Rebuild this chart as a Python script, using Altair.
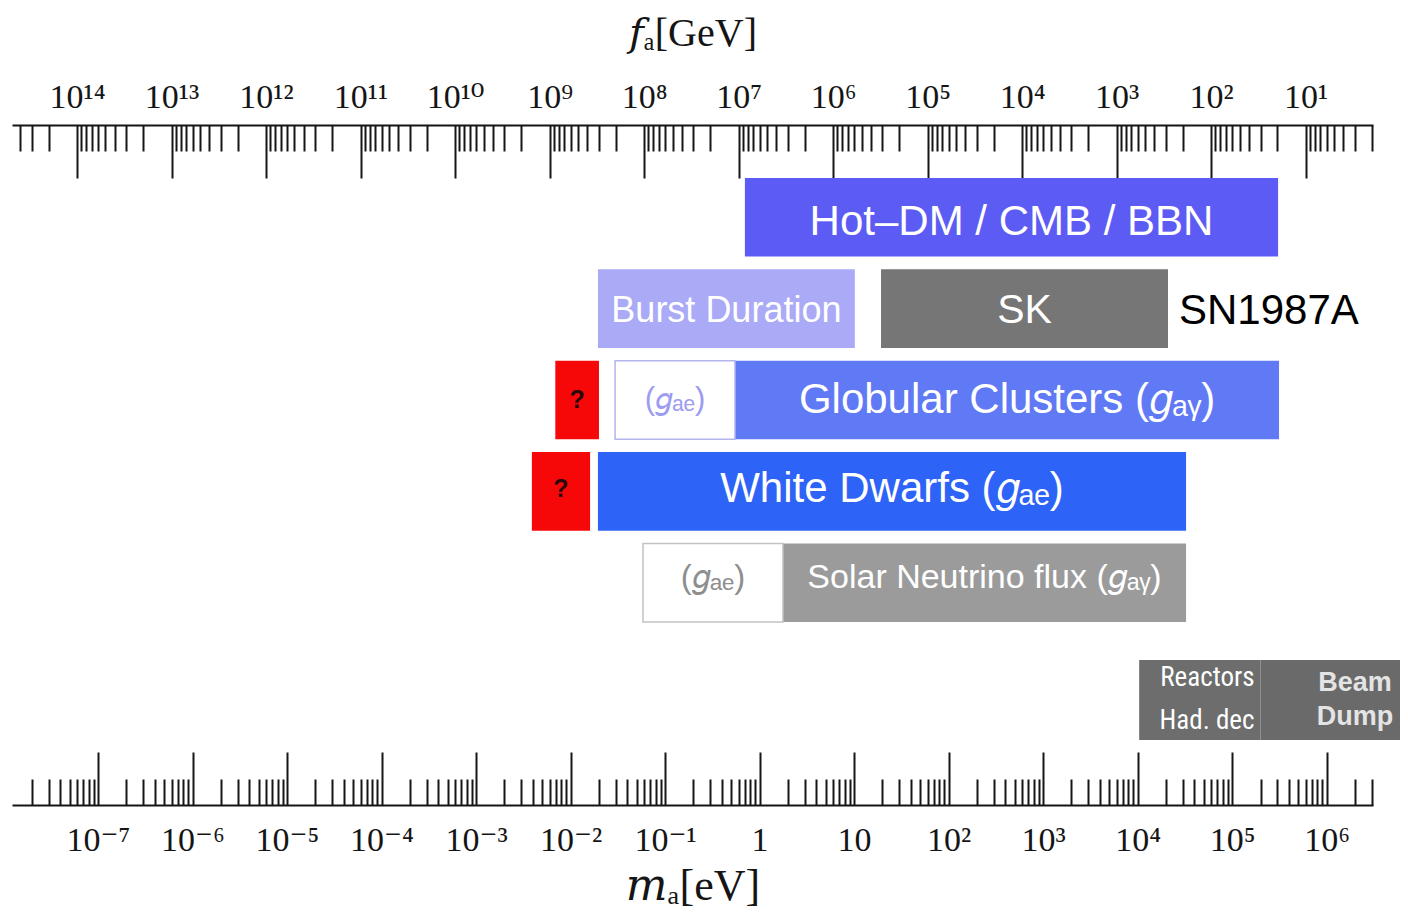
import altair as alt
import pandas as pd

# ---------------- data ----------------
FA_TIMES_MA = 6.0e6  # f_a [GeV] * m_a [eV]

m_exponents = list(range(-7, 7))
m_tick_labels = ["10⁻⁷", "10⁻⁶", "10⁻⁵", "10⁻⁴", "10⁻³", "10⁻²", "10⁻¹",
                 "1", "10", "10²", "10³", "10⁴", "10⁵", "10⁶"]
fa_exponents = list(range(14, 0, -1))
fa_tick_labels = ["10¹⁴", "10¹³", "10¹²", "10¹¹", "10¹⁰", "10⁹", "10⁸",
                  "10⁷", "10⁶", "10⁵", "10⁴", "10³", "10²", "10¹"]
minor_multipliers = [2, 3, 4, 5, 6, 7, 8, 9]
m_range = [1.23e-8, 3.1e6]

rows = ["Hot DM", "SN1987A", "Globular Clusters", "White Dwarfs", "Sun"]
lab_rows = ["Laboratory"]

bar_ids = ["hot", "burst", "sk", "gc_q", "gc_gae", "gc",
           "wd_q", "wd", "sol_gae", "sol", "reactors", "beam"]
bar_rows = ["Hot DM", "SN1987A", "SN1987A", "Globular Clusters", "Globular Clusters",
            "Globular Clusters", "White Dwarfs", "White Dwarfs", "Sun", "Sun",
            "Laboratory", "Laboratory"]
bar_lo = [0.70, 0.0195, 19.3, 6.9e-3, 0.0296, 0.55, 3.9e-3, 0.0195, 0.0585, 1.77, 1.04e4, 2.0e5]
bar_hi = [3.07e5, 10.2, 2.1e4, 0.020, 0.55, 3.14e5, 0.0161, 3.26e4, 1.77, 3.26e4, 2.0e5, 2.0e7]
bar_text = ["Hot–DM / CMB / BBN", "Burst Duration", "SK", "?", "(𝑔ₐₑ)",
            "Globular Clusters (𝑔ₐᵧ)", "?", "White Dwarfs (𝑔ₐₑ)", "(𝑔ₐₑ)",
            "Solar Neutrino flux (𝑔ₐᵧ)", "Reactors\nHad. dec", "Beam\nDump"]
side_text = ["", "", "SN1987A", "", "", "", "", "", "", "", "", ""]

# ---------------- styles ----------------
fills = {"hot": "#5c5cf5", "burst": "#aaaaf7", "sk": "#767676", "gc_q": "#f70808",
         "gc_gae": "#ffffff", "gc": "#6079f5", "wd_q": "#f70808", "wd": "#2e63f7",
         "sol_gae": "#ffffff", "sol": "#9b9b9b", "reactors": "#6d6d6d", "beam": "#6a6a6a"}
text_colors = {"hot": "#ffffff", "burst": "#ffffff", "sk": "#ffffff",
               "gc_gae": "#9c9cf0", "gc": "#ffffff", "wd": "#ffffff",
               "sol_gae": "#8e8e8e", "sol": "#ffffff"}
text_sizes = {"hot": 42, "burst": 36, "sk": 41, "gc_gae": 31, "gc": 42,
              "wd": 42, "sol_gae": 33, "sol": 34}
question_ids = ["gc_q", "wd_q"]
SANS = "Liberation Sans, Arial, Helvetica, sans-serif"
SERIF = "Liberation Serif, Times New Roman, DejaVu Serif, serif"
NARROW = "Roboto Condensed, Open Sans Condensed, Liberation Sans Narrow, DejaVu Sans Condensed, Roboto, sans-serif"
INK = "#151515"

W, H = 1361, 680

bars = pd.DataFrame({"id": bar_ids, "row": bar_rows, "lo": bar_lo, "hi": bar_hi,
                     "label": bar_text, "side": side_text})

m_major = [10.0 ** e for e in m_exponents]
m_minor = [k * 10.0 ** e for e in range(-8, 7) for k in minor_multipliers
           if m_range[0] <= k * 10.0 ** e <= m_range[1]]
fa_range = [FA_TIMES_MA / m_range[1], FA_TIMES_MA / m_range[0]]
fa_major = [10.0 ** e for e in fa_exponents]
fa_minor = [k * 10.0 ** e for e in range(0, 15) for k in minor_multipliers
            if fa_range[0] <= k * 10.0 ** e <= fa_range[1]]

# ---------------- scales ----------------
x_m = alt.Scale(type="log", domain=m_range, nice=False)
x_fa = alt.Scale(type="log", domain=fa_range, reverse=True, nice=False)
y_main = alt.Scale(domain=rows, range=[53, 497], paddingInner=0.14, paddingOuter=0)
y_lab = alt.Scale(domain=lab_rows, range=[535, 615], paddingInner=0, paddingOuter=0)

fill_scale = alt.Scale(domain=list(fills.keys()), range=list(fills.values()))
text_scale = alt.Scale(domain=list(text_colors.keys()), range=list(text_colors.values()))
fs_expr = "{" + ",".join(f"'{k}':{v}" for k, v in text_sizes.items()) + "}[datum.id]"

m_label_expr = "[" + ",".join(f"'{s}'" for s in m_tick_labels) + "][round(log(datum.value)/LN10) + 7]"
fa_label_expr = "[" + ",".join(f"'{s}'" for s in fa_tick_labels) + "][14 - round(log(datum.value)/LN10)]"

base = alt.Chart(bars)
xm_none = lambda f: alt.X(f, type="quantitative", scale=x_m, axis=None)
ym = alt.Y("row:N", scale=y_main, axis=None)
yl = alt.Y("row:N", scale=y_lab, axis=None)

main_rects = base.transform_filter(
    alt.FieldOneOfPredicate(field="row", oneOf=rows)
).mark_rect().encode(
    x=xm_none("lo"), x2="hi:Q", y=ym,
    color=alt.Color("id:N", scale=fill_scale, legend=None),
)
lab_rects = base.transform_filter(
    alt.FieldOneOfPredicate(field="row", oneOf=lab_rows)
).mark_rect().encode(
    x=xm_none("lo"), x2="hi:Q", y=yl,
    color=alt.Color("id:N", scale=fill_scale, legend=None),
)
outline_gc = base.transform_filter(alt.datum.id == "gc_gae").mark_rect(
    fillOpacity=0, stroke="#b4b4ee", strokeWidth=1.5
).encode(x=xm_none("lo"), x2="hi:Q", y=ym)
outline_sol = base.transform_filter(alt.datum.id == "sol_gae").mark_rect(
    fillOpacity=0, stroke="#c2c2c2", strokeWidth=1.5
).encode(x=xm_none("lo"), x2="hi:Q", y=ym)

main_text = base.transform_filter(
    alt.FieldOneOfPredicate(field="id", oneOf=list(text_sizes.keys()))
).transform_calculate(mid="sqrt(datum.lo * datum.hi)").mark_text(
    font=SANS, baseline="middle", align="center", fontSize=alt.ExprRef(expr=fs_expr)
).encode(
    x=xm_none("mid"), y=ym, text="label:N",
    color=alt.Color("id:N", scale=text_scale, legend=None),
)
question_text = base.transform_filter(
    alt.FieldOneOfPredicate(field="id", oneOf=question_ids)
).transform_calculate(mid="sqrt(datum.lo * datum.hi)").mark_text(
    font=SANS, fontWeight="bold", baseline="middle", align="center", fontSize=25,
    color="#2a0808"
).encode(x=xm_none("mid"), y=ym, text="label:N")
side_label = base.transform_filter(alt.datum.side != "").mark_text(
    font=SANS, baseline="middle", align="left", dx=11, fontSize=42, color="#000000"
).encode(x=xm_none("hi"), y=ym, text="side:N")
reactor_text = base.transform_filter(alt.datum.id == "reactors").mark_text(
    font=NARROW, baseline="middle", align="right", dx=-6, dy=-22, fontSize=27,
    lineBreak="\n", lineHeight=43, color="#ffffff"
).encode(x=xm_none("hi"), y=yl, text="label:N")
beam_text = base.transform_filter(alt.datum.id == "beam").transform_calculate(
    mid="sqrt(datum.lo * datum.hi)"
).mark_text(
    font=SANS, fontWeight="bold", baseline="middle", align="center", dy=-17, fontSize=27,
    lineBreak="\n", lineHeight=34, color="#e4e4e4"
).encode(x=xm_none("mid"), y=yl, text="label:N")

# ---------------- axes ----------------
m_df = pd.DataFrame({"m": m_range})
fa_df = pd.DataFrame({"fa": fa_range})


def axis_layer(df, field, scale, axis):
    return alt.Chart(df).mark_point(opacity=0).encode(
        x=alt.X(field, type="quantitative", scale=scale, axis=axis)
    )


common = dict(grid=False, labelOverlap=False, labelFlush=False, labelBound=False)

m_labels_axis = alt.Axis(
    orient="bottom", values=m_major, labelExpr=m_label_expr, ticks=False, tickSize=0,
    domain=True, domainColor=INK, domainWidth=2, labelFont=SERIF, labelFontSize=34,
    labelColor=INK, labelPadding=45, labelBaseline="alphabetic",
    title="𝑚ₐ[eV]", titleFont=SERIF, titleFontSize=44, titleFontWeight="normal",
    titleColor=INK, titleBaseline="alphabetic", titleY=94, **common)
m_major_axis = alt.Axis(
    orient="top", offset=-H, values=m_major, labels=False, domain=False, ticks=True,
    tickSize=53, tickWidth=2, tickColor=INK, title=None, **common)
m_minor_axis = alt.Axis(
    orient="top", offset=-H, values=m_minor, labels=False, domain=False, ticks=True,
    tickSize=26, tickWidth=2, tickColor=INK, title=None, **common)

fa_labels_axis = alt.Axis(
    orient="top", values=fa_major, labelExpr=fa_label_expr, ticks=False, tickSize=0,
    domain=True, domainColor=INK, domainWidth=2, labelFont=SERIF, labelFontSize=34,
    labelColor=INK, labelPadding=18, labelBaseline="alphabetic",
    title="𝑓ₐ[GeV]", titleFont=SERIF, titleFontSize=40, titleFontWeight="normal",
    titleColor=INK, titleBaseline="alphabetic", titleY=-80, **common)
fa_major_axis = alt.Axis(
    orient="bottom", offset=-H, values=fa_major, labels=False, domain=False, ticks=True,
    tickSize=53, tickWidth=2, tickColor=INK, title=None, **common)
fa_minor_axis = alt.Axis(
    orient="bottom", offset=-H, values=fa_minor, labels=False, domain=False, ticks=True,
    tickSize=26, tickWidth=2, tickColor=INK, title=None, **common)

axis_layers = [
    axis_layer(m_df, "m", x_m, m_labels_axis),
    axis_layer(m_df, "m", x_m, m_major_axis),
    axis_layer(m_df, "m", x_m, m_minor_axis),
    axis_layer(fa_df, "fa", x_fa, fa_labels_axis),
    axis_layer(fa_df, "fa", x_fa, fa_major_axis),
    axis_layer(fa_df, "fa", x_fa, fa_minor_axis),
]

chart = alt.layer(
    main_rects, lab_rects, outline_gc, outline_sol,
    main_text, question_text, side_label, reactor_text, beam_text, *axis_layers
).resolve_scale(
    x="independent", y="independent", color="independent"
).resolve_axis(
    x="independent"
).properties(
    width=W, height=H,
    autosize=alt.AutoSizeParams(type="none"),
    padding={"left": 4, "top": 117, "right": 27, "bottom": 104},
).configure_view(strokeWidth=0)

chart.save("out.html", embed_options={"renderer": "svg", "actions": False})
